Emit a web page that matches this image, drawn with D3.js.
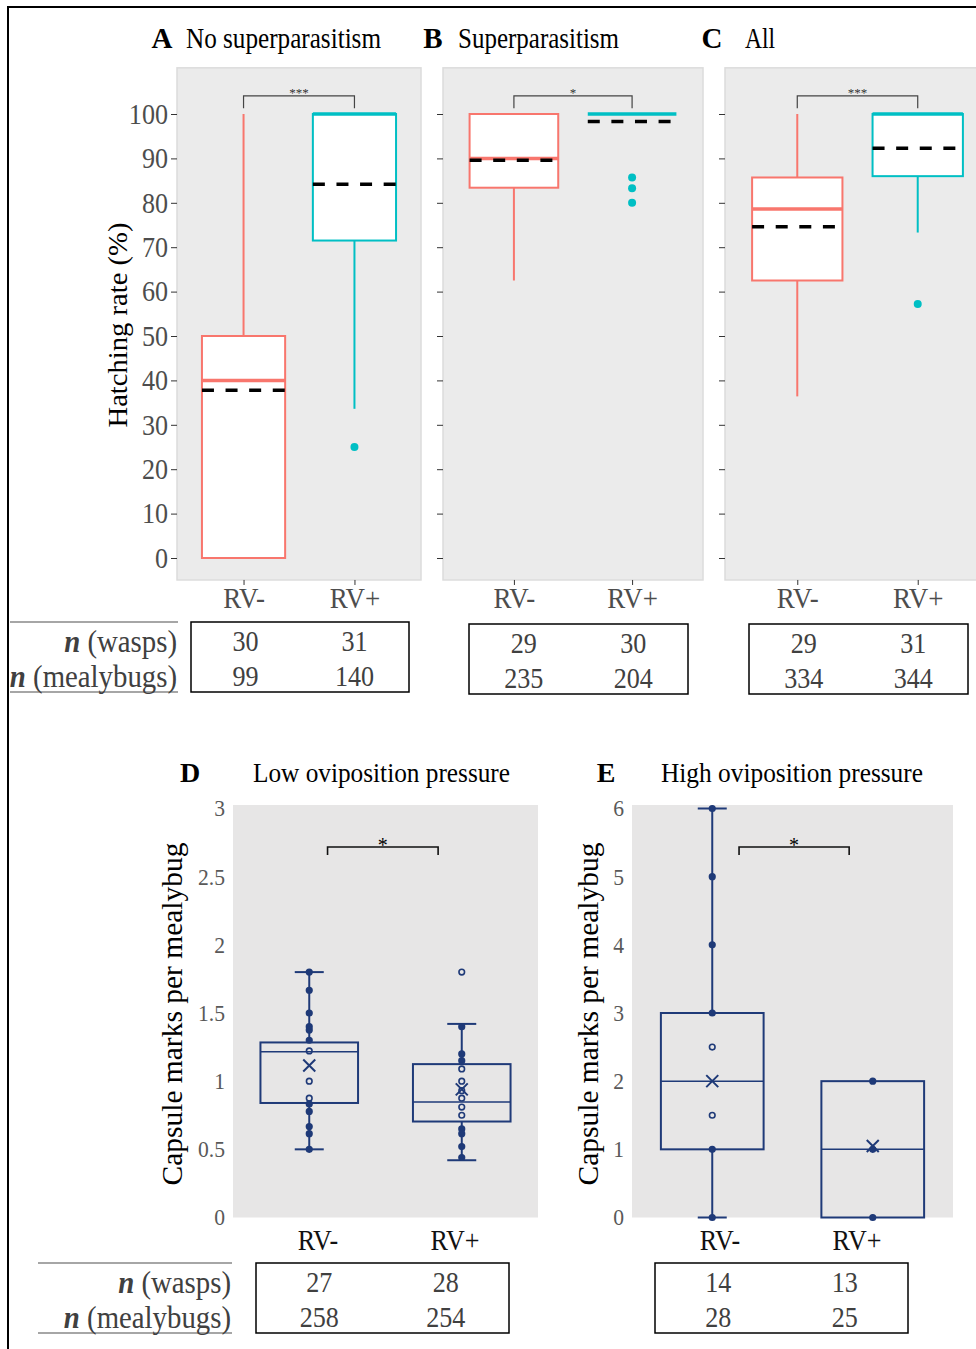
<!DOCTYPE html>
<html>
<head>
<meta charset="utf-8">
<script src="https://cdn.jsdelivr.net/npm/d3@7"></script>
<style>
  body { margin: 0; background: #fff; }
  text { font-family: "Liberation Serif", "Times New Roman", serif; }
</style>
</head>
<body>
<svg width="976" height="1349"></svg>
<script>
// ---- data: top panels (hatching rate %) ----
const groups = ["RV-", "RV+"]
const topLetters = ["A", "B", "C"]
const topTitles = ["No superparasitism", "Superparasitism", "All"]
const topTicks = [0, 10, 20, 30, 40, 50, 60, 70, 80, 90, 100]
const topWhiskLo = [[0, 33.6], [62.5, 100], [36.4, 73.3]]
const topQ1 = [[0, 71.5], [83.4, 100], [62.5, 86.0]]
const topMedian = [[40, 100], [90, 100], [78.6, 100]]
const topQ3 = [[50, 100], [100, 100], [85.7, 100]]
const topWhiskHi = [[100, 100], [100, 100], [100, 100]]
const topMean = [[37.8, 84.2], [89.6, 98.3], [74.6, 92.3]]
const topOutliers = [[[], [25]], [[], [85.7, 83.3, 80]], [[], [57.2]]]
const topSig = ["***", "*", "***"]
const topWasps = [[30, 31], [29, 30], [29, 31]]
const topMealy = [[99, 140], [235, 204], [334, 344]]

// ---- data: bottom panels (capsule marks per mealybug) ----
const botLetters = ["D", "E"]
const botTitles = ["Low oviposition pressure", "High oviposition pressure"]
const botTicks = [[0, 0.5, 1, 1.5, 2, 2.5, 3], [0, 1, 2, 3, 4, 5, 6]]
const botMin = [[0.5, 0.42], [0, 0]]
const botQ1 = [[0.84, 0.704], [1, 0]]
const botMedian = [[1.215, 0.848], [2, 1]]
const botQ3 = [[1.284, 1.125], [3, 2]]
const botMax = [[1.8, 1.42], [6, 2]]
const botMean = [[1.115, 0.94], [2.0, 1.05]]
const botPoints = [
  [[1.8, 1.667, 1.5, 1.4, 1.375, 1.3, 1.222, 1.0, 0.875, 0.833, 0.778, 0.667, 0.615, 0.5],
   [1.8, 1.4, 1.2, 1.15, 1.09, 1.0, 0.93, 0.875, 0.81, 0.75, 0.65, 0.615, 0.52, 0.44]],
  [[6, 5, 4, 3, 2.5, 1.5, 1, 0],
   [2, 1, 0]]
]
const botSig = ["*", "*"]
const botWasps = [[27, 28], [14, 13]]
const botMealy = [[258, 254], [28, 25]]

const svg = d3.select("svg")
const colors = d3.scaleOrdinal().domain(groups).range(["#F8766D", "#00BFC4"])
const navy = "#1f3a78"

// text squeezed a bit horizontally, like the reference
function txt(g, x, y, s, size, anchor, fill) {
  return g.append("text")
    .attr("transform", `translate(${x},${y}) scale(0.9,1)`)
    .attr("font-size", size)
    .attr("text-anchor", anchor || "middle")
    .attr("dominant-baseline", "central")
    .attr("fill", fill || "#000")
    .text(s)
}

// outer frame
svg.append("path")
  .attr("d", "M8,1349V7H976")
  .attr("fill", "none")
  .attr("stroke", "#000")
  .attr("stroke-width", 2)

// ---------------- top row ----------------
const topLeft = [177, 443, 725]
const topRight = [421, 703, 990]
const topTitleX = [[162, 186, 195], [433, 458, 161], [712, 745, 30]]
const yTop = d3.scaleLinear().domain([0, 100]).range([558, 114])
const topTable = [[191, 622, 218], [469, 624, 219], [749, 624, 219]]

// y title of panel A
svg.append("text")
  .attr("transform", `translate(117,${(yTop(0) + yTop(100)) / 2 - 11}) rotate(-90)`)
  .attr("text-anchor", "middle").attr("dominant-baseline", "central")
  .attr("font-size", 28).attr("textLength", 205).attr("lengthAdjust", "spacingAndGlyphs")
  .text("Hatching rate (%)")

topLetters.forEach((L, i) => {
  const g = svg.append("g")
  const x = d3.scalePoint().domain(groups).range([topLeft[i], topRight[i]]).padding(0.6)
  const bw = x.step() * 0.75

  // titles
  g.append("text").attr("x", topTitleX[i][0]).attr("y", 38)
    .attr("text-anchor", "middle").attr("dominant-baseline", "central")
    .attr("font-size", 29).attr("font-weight", "bold").text(L)
  g.append("text").attr("x", topTitleX[i][1]).attr("y", 38)
    .attr("dominant-baseline", "central").attr("font-size", 29)
    .attr("textLength", topTitleX[i][2]).attr("lengthAdjust", "spacingAndGlyphs")
    .text(topTitles[i])

  // panel
  g.append("rect")
    .attr("x", topLeft[i]).attr("y", yTop(110.4))
    .attr("width", topRight[i] - topLeft[i])
    .attr("height", yTop(-4.95) - yTop(110.4))
    .attr("fill", "#ebebeb").attr("stroke", "#dcdcdc").attr("stroke-width", 1.5)

  // y axis
  const ya = g.append("g").attr("transform", `translate(${topLeft[i]},0)`)
    .call(d3.axisLeft(yTop).tickValues(topTicks).tickSize(6).tickFormat(i === 0 ? d3.format("d") : ""))
  ya.select(".domain").remove()
  ya.selectAll("line").attr("stroke", "#333")
  ya.selectAll("text").attr("font-size", 29).attr("fill", "#4d4d4d")
    .attr("font-family", "Liberation Serif, serif")
    .attr("transform", "scale(0.9,1)").attr("x", -10)

  // x axis
  const xa = g.append("g").attr("transform", `translate(0,${yTop(-4.95)})`)
    .call(d3.axisBottom(x).tickSize(5))
  xa.select(".domain").remove()
  xa.selectAll("line").attr("stroke", "#333")
  xa.selectAll("text").attr("font-size", 30).attr("fill", "#4d4d4d")
    .attr("font-family", "Liberation Serif, serif")
    .attr("y", 18).attr("dy", null).attr("dominant-baseline", "central")
    .attr("transform", "scale(0.9,1)")

  // boxes
  groups.forEach((grp, j) => {
    const cx = x(grp)
    const c = colors(grp)
    g.append("line").attr("x1", cx).attr("x2", cx)
      .attr("y1", yTop(topWhiskLo[i][j])).attr("y2", yTop(topQ1[i][j]))
      .attr("stroke", c).attr("stroke-width", 2)
    g.append("line").attr("x1", cx).attr("x2", cx)
      .attr("y1", yTop(topQ3[i][j])).attr("y2", yTop(topWhiskHi[i][j]))
      .attr("stroke", c).attr("stroke-width", 2)
    g.append("rect")
      .attr("x", cx - bw / 2).attr("y", yTop(topQ3[i][j]))
      .attr("width", bw).attr("height", yTop(topQ1[i][j]) - yTop(topQ3[i][j]))
      .attr("fill", "#fff").attr("stroke", c).attr("stroke-width", 2)
    g.append("line").attr("x1", cx - bw / 2).attr("x2", cx + bw / 2)
      .attr("y1", yTop(topMedian[i][j])).attr("y2", yTop(topMedian[i][j]))
      .attr("stroke", c).attr("stroke-width", 3.5)
    g.append("line").attr("x1", cx - bw / 2).attr("x2", cx + bw / 2)
      .attr("y1", yTop(topMean[i][j])).attr("y2", yTop(topMean[i][j]))
      .attr("stroke", "#000").attr("stroke-width", 3.5)
      .attr("stroke-dasharray", "12,11.6")
    g.selectAll(null).data(topOutliers[i][j]).enter().append("circle")
      .attr("cx", cx).attr("cy", d => yTop(d)).attr("r", 4).attr("fill", c)
  })

  // significance bracket
  g.append("path")
    .attr("d", `M${x(groups[0])},${yTop(101.3)}V${yTop(104.1)}H${x(groups[1])}V${yTop(101.3)}`)
    .attr("fill", "none").attr("stroke", "#444").attr("stroke-width", 1.2)
  g.append("text").attr("x", (x(groups[0]) + x(groups[1])) / 2).attr("y", yTop(104.9))
    .attr("text-anchor", "middle").attr("dominant-baseline", "central")
    .attr("font-size", 13).attr("fill", "#333")
    .text(topSig[i])

  // n table
  const [tx, ty, tw] = topTable[i]
  g.append("rect").attr("x", tx).attr("y", ty).attr("width", tw).attr("height", 70)
    .attr("fill", "none").attr("stroke", "#000").attr("stroke-width", 1.5)
  groups.forEach((grp, j) => {
    const colX = tx + tw * (0.25 + 0.5 * j)
    txt(g, colX, ty + 19, topWasps[i][j], 29, "middle", "#404040")
    txt(g, colX, ty + 54, topMealy[i][j], 29, "middle", "#404040")
  })
})

// row labels for the n tables
function rowLabels(xEnd, top, xStart) {
  const g = svg.append("g")
  ;[top, top + 70].forEach(yy => {
    g.append("line").attr("x1", xStart).attr("x2", xEnd + 1)
      .attr("y1", yy).attr("y2", yy)
      .attr("stroke", "#a6a6a6").attr("stroke-width", 2)
  })
  const labels = ["(wasps)", "(mealybugs)"]
  labels.forEach((s, k) => {
    const t = txt(g, xEnd, top + 19 + k * 35, "", 32, "end", "#404040")
    t.append("tspan").attr("font-weight", "bold").attr("font-style", "italic").text("n")
    t.append("tspan").text(" " + s)
  })
}
rowLabels(177, 622, 10)

// ---------------- bottom row ----------------
const botLeft = [233, 632]
const botRight = [538, 953]
const botTitleX = [[190, 253, 257], [606, 661, 262]]
const botYTitleX = [172, 588]
const botCatX = [[318, 455], [720, 857]]
const botBracket = [[0.62, 0.345], [0.667, 0.353]]
const botTable = [[256, 1263, 253], [655, 1263, 253]]

botLetters.forEach((L, i) => {
  const g = svg.append("g")
  const x = d3.scaleBand().domain(groups).range([botLeft[i], botRight[i]])
  const bw = x.bandwidth() * 0.64
  const top = botTicks[i][botTicks[i].length - 1]
  const y = d3.scaleLinear().domain([0, top]).range([1217.5, 808.5])

  g.append("text").attr("x", botTitleX[i][0]).attr("y", 772)
    .attr("text-anchor", "middle").attr("dominant-baseline", "central")
    .attr("font-size", 28).attr("font-weight", "bold").text(L)
  g.append("text").attr("x", botTitleX[i][1]).attr("y", 772)
    .attr("dominant-baseline", "central").attr("font-size", 28)
    .attr("textLength", botTitleX[i][2]).attr("lengthAdjust", "spacingAndGlyphs")
    .text(botTitles[i])

  g.append("rect")
    .attr("x", botLeft[i]).attr("y", y(top) - 3.5)
    .attr("width", botRight[i] - botLeft[i]).attr("height", y(0) - y(top) + 3.5)
    .attr("fill", "#e7e6e6")

  // y labels
  botTicks[i].forEach(v => {
    txt(g, botLeft[i] - 8, y(v), String(v), 24, "end", "#595959")
  })
  g.append("text")
    .attr("transform", `translate(${botYTitleX[i]},${(y(0) + y(top)) / 2 + 1}) rotate(-90)`)
    .attr("text-anchor", "middle").attr("dominant-baseline", "central")
    .attr("font-size", 29).attr("textLength", 343).attr("lengthAdjust", "spacingAndGlyphs")
    .text("Capsule marks per mealybug")

  groups.forEach((grp, j) => {
    const cx = x(grp) + x.bandwidth() / 2
    txt(g, botCatX[i][j], 1240, grp, 29, "middle", "#111")

    // whiskers and caps
    ;[[botMin[i][j], botQ1[i][j]], [botQ3[i][j], botMax[i][j]]].forEach(([a, b]) => {
      if (a === b) return
      g.append("line").attr("x1", cx).attr("x2", cx)
        .attr("y1", y(a)).attr("y2", y(b))
        .attr("stroke", navy).attr("stroke-width", 2)
    })
    ;[botMin[i][j], botMax[i][j]].forEach((v, k) => {
      const edge = k === 0 ? botQ1[i][j] : botQ3[i][j]
      if (v === edge) return
      g.append("line").attr("x1", cx - 14.5).attr("x2", cx + 14.5)
        .attr("y1", y(v)).attr("y2", y(v))
        .attr("stroke", navy).attr("stroke-width", 2)
    })
    g.append("rect")
      .attr("x", cx - bw / 2).attr("y", y(botQ3[i][j]))
      .attr("width", bw).attr("height", y(botQ1[i][j]) - y(botQ3[i][j]))
      .attr("fill", "none").attr("stroke", navy).attr("stroke-width", 2)
    g.append("line").attr("x1", cx - bw / 2).attr("x2", cx + bw / 2)
      .attr("y1", y(botMedian[i][j])).attr("y2", y(botMedian[i][j]))
      .attr("stroke", navy).attr("stroke-width", 1.5)

    // points lying on a line read as solid dots, the others as rings
    const onLine = d => (d <= botQ1[i][j] || d >= botQ3[i][j] || d === botMedian[i][j]) &&
      d >= botMin[i][j] && d <= botMax[i][j]
    g.selectAll(null).data(botPoints[i][j]).enter().append("circle")
      .attr("cx", cx).attr("cy", d => y(d)).attr("r", 2.8)
      .attr("fill", d => onLine(d) ? navy : "none")
      .attr("stroke", navy).attr("stroke-width", 1.6)

    const my = y(botMean[i][j])
    g.append("path")
      .attr("d", `M${cx - 6},${my - 6}L${cx + 6},${my + 6}M${cx - 6},${my + 6}L${cx + 6},${my - 6}`)
      .attr("stroke", navy).attr("stroke-width", 2)
  })

  // significance bracket
  const x1 = x(groups[0]) + x.bandwidth() * botBracket[i][0]
  const x2 = x(groups[1]) + x.bandwidth() * botBracket[i][1]
  const by = y(top) + 38.5
  g.append("path")
    .attr("d", `M${x1},${by + 8}V${by}H${x2}V${by + 8}`)
    .attr("fill", "none").attr("stroke", "#111").attr("stroke-width", 1.6)
  g.append("text").attr("x", (x1 + x2) / 2).attr("y", by - 2)
    .attr("text-anchor", "middle").attr("dominant-baseline", "central")
    .attr("font-size", 20).text(botSig[i])

  // n table
  const [tx, ty, tw] = botTable[i]
  g.append("rect").attr("x", tx).attr("y", ty).attr("width", tw).attr("height", 70)
    .attr("fill", "none").attr("stroke", "#000").attr("stroke-width", 1.5)
  groups.forEach((grp, j) => {
    const colX = tx + tw * (0.25 + 0.5 * j)
    txt(g, colX, ty + 19, botWasps[i][j], 29, "middle", "#404040")
    txt(g, colX, ty + 54, botMealy[i][j], 29, "middle", "#404040")
  })
})
rowLabels(231, 1263, 38)
</script>
</body>
</html>
